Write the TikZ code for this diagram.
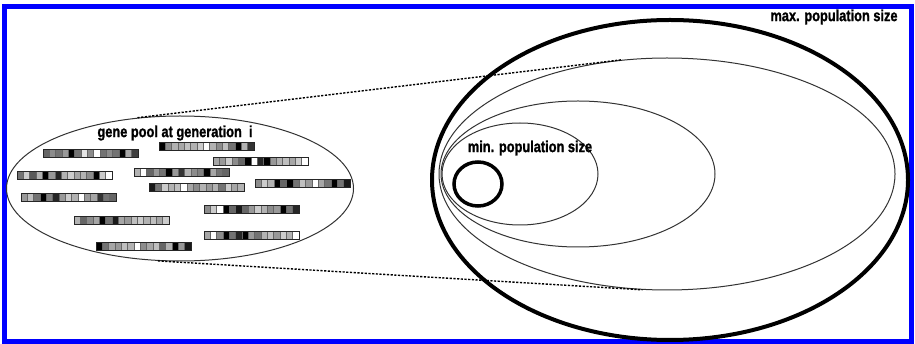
\documentclass[tikz,border=0pt]{standalone}
\usepackage{fontspec}
\setmainfont{Liberation Sans}
\newfontfamily\lblfont[FakeStretch=0.8,FakeBold=1.3]{Liberation Sans Bold}
\usetikzlibrary{shapes.geometric}
\definecolor{frameblue}{RGB}{0,0,255}
\tikzset{
  thinell/.style={ellipse, draw=black!80, line width=1pt, inner sep=0pt},
  thickell/.style={ellipse, draw=black, line width=4pt, inner sep=0pt},
  lbl/.style={font=\lblfont\fontsize{16}{18}\selectfont, inner sep=0pt},
  dotline/.style={draw=black, line width=1.4pt, dash pattern=on 2.2pt off 1.5pt},
  cell/.style={draw=black!60, line width=0.4pt},
  barframe/.style={draw=black!85, line width=0.9pt}
}
\newcommand\chromobar[3]{%
  \foreach \s [count=\k from 0] in {#3} {
    \filldraw[cell, fill=black!\s] ({#1+\k*6.333},#2) rectangle ++(6.333,8);
  }
  \draw[barframe] (#1,#2) rectangle ++(95,8);
}
\begin{document}
\begin{tikzpicture}[x=1pt,y=-1pt]
\useasboundingbox (0,0) rectangle (915,344);
\fill[white] (0,0) rectangle (915,344);
\draw[frameblue, line width=5pt] (4.5,6.5) rectangle (911.5,341.5);

% left gene pool
\node[thinell, minimum width=347pt, minimum height=145pt] (pool) at (180,188.5) {};
\node[lbl] (pooltxt) at (175,133) {gene pool at generation\ \ i};

% right nested populations
\node[thickell, minimum width=476pt, minimum height=320pt] (maxpop) at (670,180) {};
\node[thinell, minimum width=456pt, minimum height=232pt] (e2) at (667,174) {};
\node[thinell, minimum width=274pt, minimum height=146pt] (e3) at (578,174) {};
\node[thinell, minimum width=156pt, minimum height=102pt] (e4) at (520,174) {};
\node[ellipse, draw=black, line width=3.5pt, inner sep=0pt, minimum width=48pt, minimum height=44pt] (minpop) at (478,184) {};
\node[lbl] (mintxt) at (530,148) {min. population size};
\node[lbl] (maxtxt) at (834,17) {max. population size};

% dashed zoom lines
\draw[dotline] (pool.121) -- (e2.112);
\draw[dotline] (pool.253) -- (e2.258);

% chromosomes
\chromobar{43}{149}{60,45,55,40,100,55,10,45,0,55,45,55,100,35,75}
\chromobar{159}{142}{100,45,30,35,25,30,20,0,30,45,25,55,100,30,80}
\chromobar{213}{157}{35,40,20,45,60,100,0,85,100,40,30,25,35,20,0}
\chromobar{17}{171}{55,20,65,30,100,40,85,30,20,35,30,45,100,20,0}
\chromobar{134}{168}{30,0,60,40,55,100,40,80,30,45,50,100,35,55,60}
\chromobar{255}{179}{45,20,30,100,60,100,55,25,40,0,35,55,100,55,90}
\chromobar{149}{183}{90,55,20,30,25,0,35,45,30,40,30,55,20,35,30}
\chromobar{21}{193}{40,25,55,100,50,85,40,20,30,0,40,35,80,55,60}
\chromobar{204}{205}{45,20,0,100,60,90,60,40,20,30,45,40,100,55,85}
\chromobar{74}{216}{30,60,45,35,100,55,90,35,40,25,20,30,25,35,20}
\chromobar{204}{231}{35,0,45,100,55,85,100,40,55,30,25,40,20,30,0}
\chromobar{96}{242}{100,55,35,40,25,30,0,45,35,25,60,30,100,40,90}
\end{tikzpicture}
\end{document}
